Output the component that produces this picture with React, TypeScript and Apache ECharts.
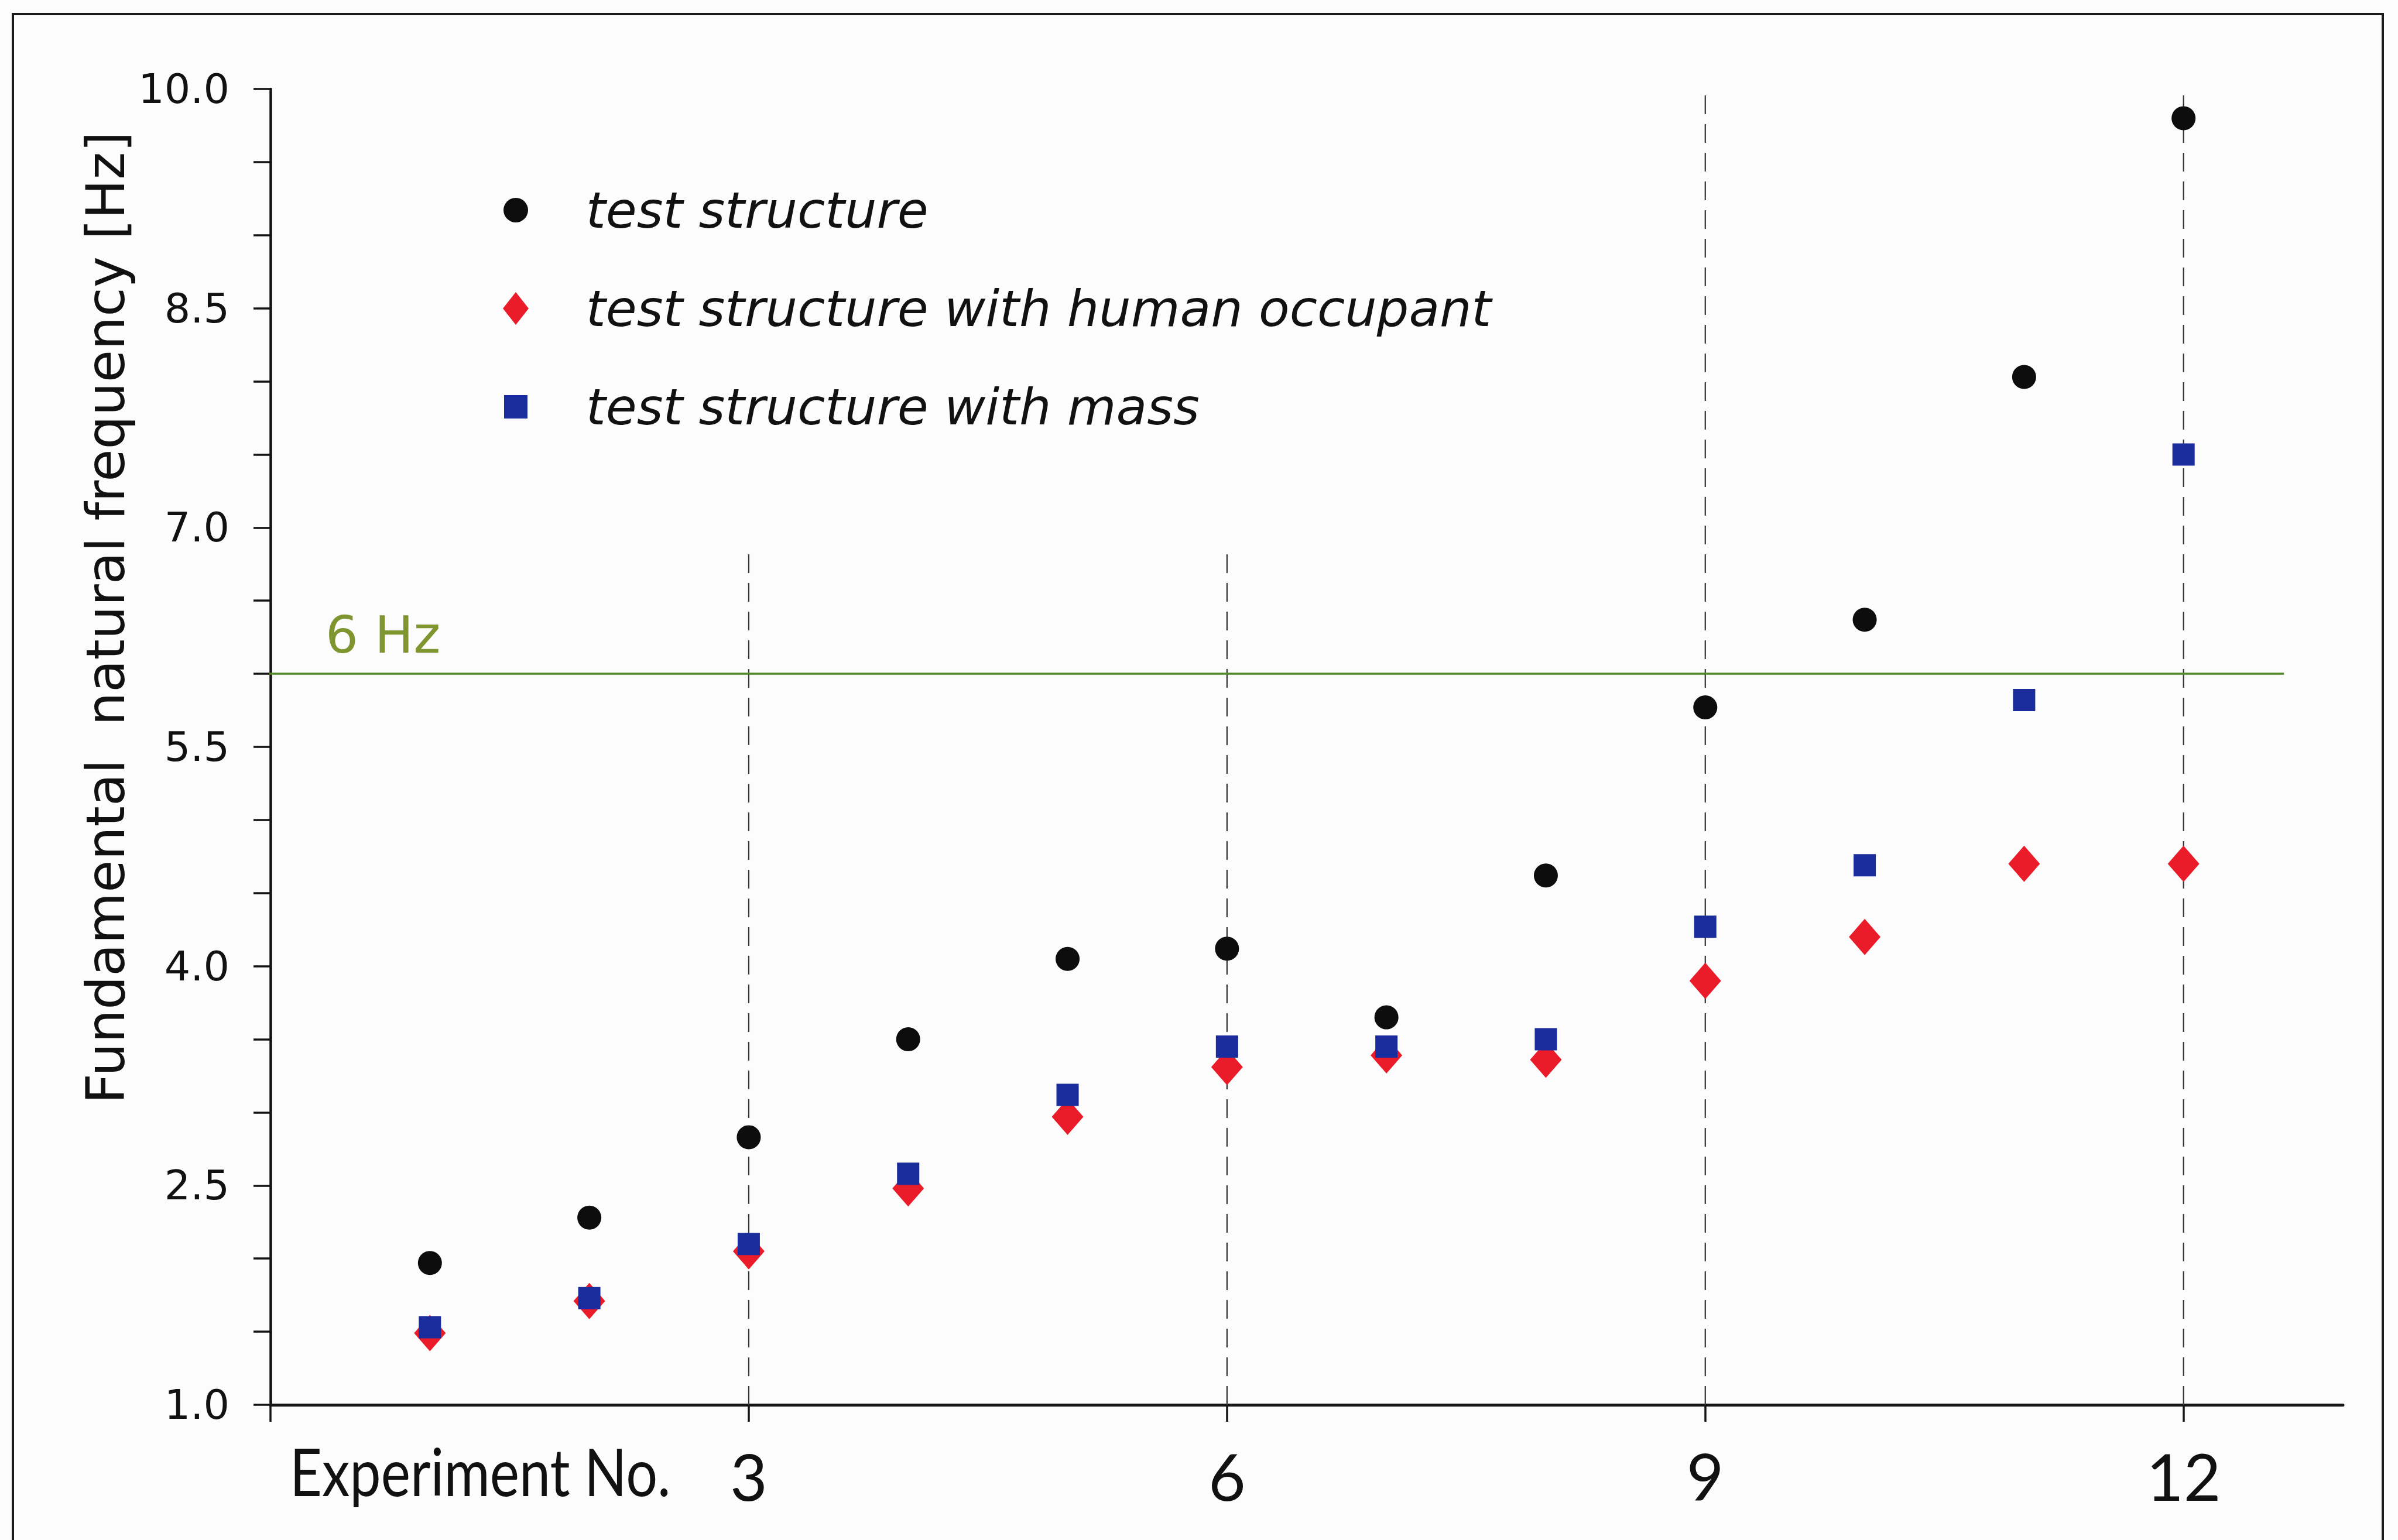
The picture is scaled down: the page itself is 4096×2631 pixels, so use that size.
import React, { useEffect, useRef } from 'react';
import * as echarts from 'echarts';

// ---- data ----
const experiments = [1, 2, 3, 4, 5, 6, 7, 8, 9, 10, 11, 12];
const testStructure = [1.97, 2.28, 2.83, 3.5, 4.05, 4.12, 3.65, 4.62, 5.77, 6.37, 8.03, 9.8];
const withHumanOccupant = [1.49, 1.71, 2.05, 2.48, 2.97, 3.31, 3.39, 3.36, 3.9, 4.2, 4.7, 4.7];
const withMass = [1.53, 1.73, 2.1, 2.58, 3.12, 3.45, 3.45, 3.5, 4.27, 4.69, 5.82, 7.5];
const seriesNames = [
  'test structure',
  'test structure with human occupant',
  'test structure with mass',
];
const xTickValues = [0, 3, 6, 9, 12];
const xLabelValues = [3, 6, 9, 12];
const yLabelValues = [1.0, 2.5, 4.0, 5.5, 7.0, 8.5, 10.0];
const guideExperiments = [3, 6, 9, 12];
const guideTops = [6.86, 6.86, 10, 10];
const thresholdHz = 6;
const thresholdSpan = [-0.38, 12.63];

const INK = '#141414';

export default function App() {
  const ref = useRef<HTMLDivElement>(null);

  useEffect(() => {
    if (!ref.current) return;
    const chart = echarts.init(ref.current, undefined, { renderer: 'svg' });

    const guideSeries = guideExperiments.map((x, i) => ({
      name: 'guide' + i,
      type: 'line',
      data: [
        [x, 1],
        [x, guideTops[i]],
      ],
      symbol: 'none',
      silent: true,
      z: 1,
      lineStyle: { color: '#333333', width: 2.2, type: [32, 17] },
    }));

    const option: any = {
      animation: false,
      backgroundColor: '#fdfcfd',
      grid: { left: 462, right: 94, top: 152, bottom: 231, containLabel: false },
      xAxis: {
        type: 'value',
        min: 0,
        max: 13,
        splitLine: { show: false },
        axisLine: { show: true, onZero: false, lineStyle: { color: INK, width: 5 } },
        axisTick: {
          show: true,
          customValues: xTickValues,
          length: 29,
          lineStyle: { color: INK, width: 3.5 },
        },
        axisLabel: {
          customValues: xLabelValues,
          margin: 66,
          fontFamily: 'Lato',
          fontSize: 110,
          lineHeight: 110,
          color: '#111',
          formatter: (v: number) => String(v),
        },
      },
      yAxis: {
        type: 'value',
        min: 1,
        max: 10,
        interval: 0.5,
        splitLine: { show: false },
        axisLine: { show: true, onZero: false, lineStyle: { color: INK, width: 4.5 } },
        axisTick: { show: true, length: 29, lineStyle: { color: INK, width: 3.5 } },
        axisLabel: {
          customValues: yLabelValues,
          margin: 70,
          fontFamily: 'DejaVu Sans',
          fontSize: 70,
          color: '#111',
          formatter: (v: number) => v.toFixed(1),
        },
      },
      legend: {
        orient: 'vertical',
        left: 853,
        top: 316,
        padding: 0,
        itemWidth: 230,
        itemHeight: 56,
        itemGap: 82,
        symbolKeepAspect: true,
        selectedMode: false,
        textStyle: {
          fontFamily: 'DejaVu Sans',
          fontStyle: 'italic',
          fontSize: 86,
          lineHeight: 86,
          color: '#111',
        },
        data: [
          {
            name: seriesNames[0],
            icon: 'path://M0,0M56,56M49,28A21,21,0,1,1,7,28A21,21,0,1,1,49,28Z',
          },
          { name: seriesNames[1], icon: 'path://M28,0L50,28L28,56L6,28Z' },
          { name: seriesNames[2], icon: 'path://M0,0M56,56M8,8H48V48H8Z' },
        ],
      },
      graphic: [
        {
          type: 'rect',
          silent: true,
          z: 0,
          shape: { x: 22, y: 24, width: 4048, height: 2800 },
          style: { fill: 'none', stroke: '#1a1a1a', lineWidth: 4 },
        },
        {
          type: 'text',
          silent: true,
          x: 180,
          y: 1055,
          rotation: Math.PI / 2,
          style: {
            text: 'Fundamental  natural frequency [Hz]',
            fontFamily: 'DejaVu Sans',
            fontSize: 90,
            fill: '#111',
            align: 'center',
            verticalAlign: 'middle',
          },
        },
        {
          type: 'text',
          silent: true,
          x: 556,
          y: 1084,
          style: {
            text: '6 Hz',
            fontFamily: 'DejaVu Sans',
            fontSize: 88,
            fill: '#7f9630',
            align: 'left',
            verticalAlign: 'middle',
          },
        },
        {
          type: 'text',
          silent: true,
          x: 495,
          y: 2512,
          scaleX: 0.85,
          style: {
            text: 'Experiment No.',
            fontFamily: 'Lato',
            fontSize: 112,
            fill: '#111',
            align: 'left',
            verticalAlign: 'middle',
          },
        },
      ],
      series: [
        ...guideSeries,
        {
          name: 'threshold',
          type: 'line',
          clip: false,
          silent: true,
          symbol: 'none',
          z: 2,
          data: thresholdSpan.map((x) => [x, thresholdHz]),
          lineStyle: { color: '#4e8a22', width: 3.5 },
        },
        {
          name: seriesNames[0],
          type: 'scatter',
          symbol: 'circle',
          symbolSize: 41,
          z: 3,
          itemStyle: { color: '#0d0d0d', opacity: 1 },
          data: experiments.map((e, i) => [e, testStructure[i]]),
        },
        {
          name: seriesNames[1],
          type: 'scatter',
          symbol: 'diamond',
          symbolSize: [54, 62],
          z: 4,
          itemStyle: { color: '#ea1c2a', opacity: 1 },
          data: experiments.map((e, i) => [e, withHumanOccupant[i]]),
        },
        {
          name: seriesNames[2],
          type: 'scatter',
          symbol: 'rect',
          symbolSize: 38,
          z: 5,
          itemStyle: { color: '#1b2c9c', opacity: 1 },
          data: experiments.map((e, i) => [e, withMass[i]]),
        },
      ],
    };

    chart.setOption(option);
    return () => chart.dispose();
  }, []);

  return (
    <div
      ref={ref}
      style={{ position: 'fixed', left: 0, top: 0, width: 4096, height: 2631 }}
    />
  );
}
